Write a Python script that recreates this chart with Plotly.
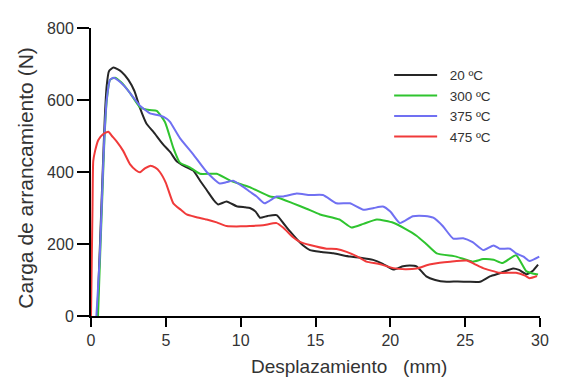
import plotly.graph_objects as go

# Data
names = ["\u00a0\u00a020\u00a0ºC", "\u00a0\u00a0300\u00a0ºC", "\u00a0\u00a0375\u00a0ºC", "\u00a0\u00a0475\u00a0ºC"]

x20 = [0.42, 0.6, 0.78, 0.92, 1.05, 1.2, 1.5, 1.8, 2.05, 2.5, 2.9, 3.27, 3.7, 4.16, 4.6, 4.83, 5.3, 5.72, 6.3,
       6.83, 7.3, 7.73, 8.2, 8.5, 9.06, 9.73, 10.3, 10.62, 11.0, 11.29, 11.8, 12.4, 12.83, 13.3, 13.74, 14.2,
       14.63, 15.4, 16.2, 17.3, 18.0, 18.85, 19.5, 20.2, 20.85, 21.3, 21.75, 22.4, 23.0, 23.76, 24.5, 25.2,
       26.0, 26.65, 27.4, 28.2, 28.6, 29.1, 29.5, 29.87]
y20 = [0, 200, 400, 550, 640, 680, 690, 685, 678, 656, 625, 578, 535, 512, 488, 476, 455, 430, 415,
       404, 375, 350, 322, 310, 318, 305, 302, 300, 290, 273, 278, 280, 259, 235, 214, 195,
       183, 178, 174, 165, 162, 156, 145, 129, 138, 140, 138, 110, 100, 95, 96, 95,
       95, 110, 120, 132, 128, 116, 125, 143]

x300 = [0.47, 0.62, 0.78, 0.9, 1.06, 1.27, 1.6, 2.0, 2.6, 3.27, 3.9, 4.39, 4.94, 5.5, 5.94, 6.6, 7.28, 8.4,
        9.3, 10.6, 11.96, 12.4, 13.5, 14.4, 15.3, 16.6, 17.4, 18.2, 19.1, 20.2, 21.0, 21.75, 22.4, 23.1,
        24.4, 25.5, 26.2, 26.9, 27.5, 28.4, 29.1, 29.87]
y300 = [0, 178, 358, 494, 601, 656, 662, 650, 620, 580, 572, 570, 539, 467, 426, 413, 395, 395,
        376, 358, 332, 330, 313, 298, 282, 268, 246, 256, 268, 259, 242, 223, 200, 174,
        165, 151, 158, 156, 147, 169, 124, 115]

x375 = [0.36, 0.5, 0.6, 0.76, 0.89, 1.05, 1.27, 1.5, 1.8, 2.2, 2.6, 3.27, 3.94, 4.6, 5.06, 5.28, 5.94, 6.83,
        7.73, 8.6, 9.07, 9.5, 10.2, 10.62, 11.07, 11.6, 12.4, 12.85, 13.74, 14.63, 15.5, 16.4, 17.3, 18.2,
        18.9, 19.5, 20.0, 20.64, 21.5, 22.3, 22.87, 23.5, 24.2, 24.87, 25.5, 26.2, 26.9, 27.3, 28.0, 28.4,
        28.9, 29.3, 29.95]
y375 = [0, 100, 178, 358, 494, 601, 656, 662, 655, 640, 620, 584, 563, 557, 548, 539, 494, 449,
        400, 368, 372, 376, 358, 345, 332, 313, 332, 332, 340, 336, 336, 313, 313, 295,
        300, 304, 290, 258, 277, 278, 273, 250, 215, 216, 205, 183, 196, 187, 187, 174,
        165, 153, 165]

x475 = [0.0, 0.05, 0.1, 0.15, 0.27, 0.49, 0.8, 1.16, 1.4, 1.71, 2.16, 2.6, 3.0, 3.27, 3.6, 3.94, 4.3, 4.6,
        5.0, 5.5, 6.0, 6.39, 7.0, 7.73, 8.4, 9.06, 10.0, 10.6, 11.5, 12.4, 12.83, 13.5, 14.0, 14.63, 15.74,
        16.4, 17.08, 17.8, 18.4, 19.2, 20.2, 21.0, 21.75, 22.6, 23.3, 24.0, 25.1, 25.6, 26.2, 27.3, 28.4,
        29.0, 29.3, 29.8]
y475 = [0, 150, 300, 430, 458, 489, 505, 512, 500, 485, 458, 422, 405, 399, 410, 417, 412, 400,
        370, 313, 295, 282, 275, 268, 260, 250, 249, 250, 252, 258, 246, 219, 205, 197, 187,
        186, 178, 165, 151, 145, 133, 130, 132, 143, 148, 151, 154, 145, 133, 120, 120,
        112, 105, 111]

x_ticks = [0, 5, 10, 15, 20, 25, 30]
y_ticks = [0, 200, 400, 600, 800]

series = [(x20, y20, "#262626"), (x300, y300, "#2fc42f"),
          (x375, y375, "#7070f2"), (x475, y475, "#f03a3a")]

FONT = "Liberation Sans, Arial, sans-serif"
TXT = "#333333"

fig = go.Figure()
for (xs, ys, col), nm in zip(series, names):
    fig.add_trace(go.Scatter(x=xs, y=ys, mode="lines", name=nm,
                             line=dict(color=col, width=2, shape="spline", smoothing=0.5)))

fig.update_layout(
    width=564, height=374,
    margin=dict(l=83, r=32, t=12, b=66),
    plot_bgcolor="white", paper_bgcolor="white",
    font=dict(family=FONT, color=TXT, size=16),
    showlegend=True,
    legend=dict(x=0.664, y=0.89, xanchor="left", yanchor="top",
                font=dict(size=13.5, color=TXT), bgcolor="rgba(0,0,0,0)",
                itemwidth=43, tracegroupgap=0),
    xaxis=dict(range=[0, 30], tickvals=x_ticks, ticks="outside", ticklen=9, tickwidth=2,
               tickcolor="black", showline=True, linecolor="black", linewidth=2,
               showgrid=False, zeroline=False, tickfont=dict(size=16, color=TXT)),
    yaxis=dict(range=[0, 800], tickvals=y_ticks, ticks="outside", ticklen=12, tickwidth=2,
               tickcolor="black", showline=True, linecolor="black", linewidth=2,
               showgrid=False, zeroline=False, tickfont=dict(size=16, color=TXT)),
    annotations=[
        dict(text="Desplazamiento\u00a0\u00a0\u00a0(mm)", xref="paper", yref="paper",
             x=0.575, y=-0.176, xanchor="center", yanchor="middle", showarrow=False,
             font=dict(size=19, color=TXT)),
        dict(text="Carga de arrancamiento (N)", xref="paper", yref="paper",
             x=-0.145, y=0.48, xanchor="center", yanchor="middle", textangle=-90,
             showarrow=False, font=dict(size=21, color=TXT)),
    ],
)

fig.write_html("out.html")
